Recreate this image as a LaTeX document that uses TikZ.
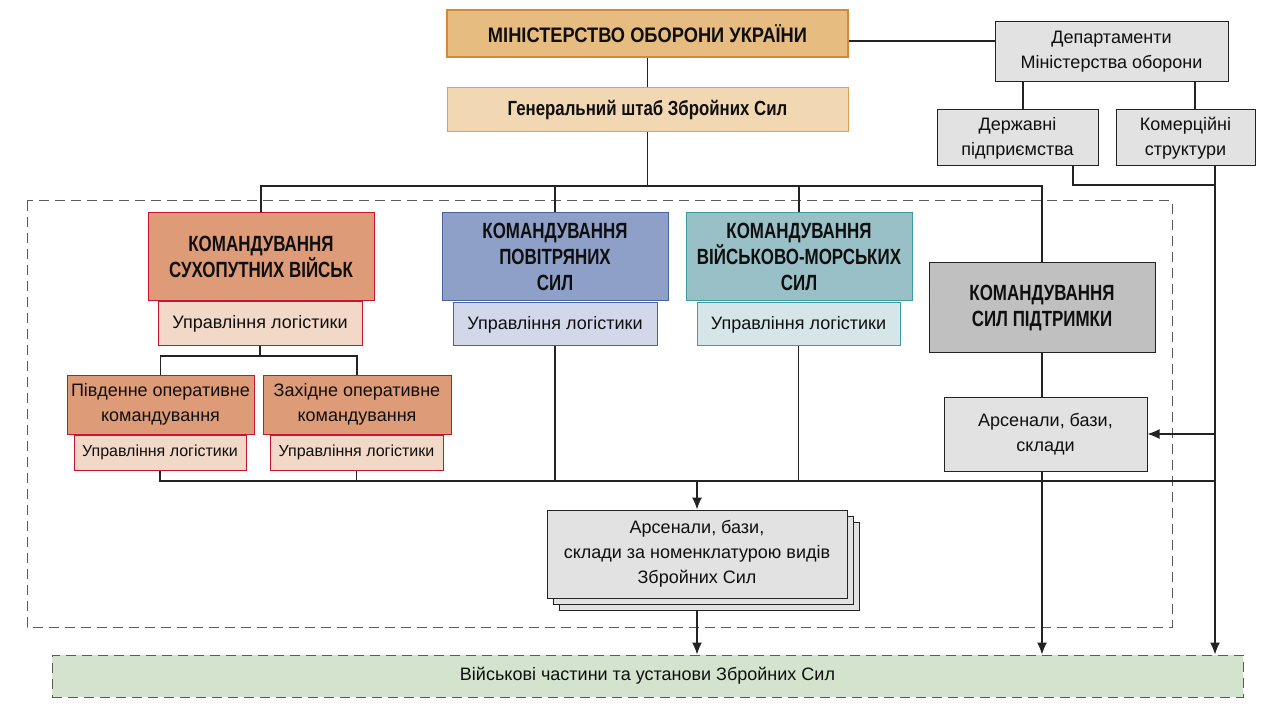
\documentclass[tikz,border=0pt]{standalone}
\usepackage{fontspec}
\setmainfont{Liberation Sans}
\newfontfamily\regf{Liberation Sans}
\newfontfamily\boldf{Liberation Sans Bold}[FakeStretch=0.77]
\newfontfamily\titlef{Liberation Sans Bold}[FakeStretch=0.87]
\newfontfamily\gsf{Liberation Sans Bold}[FakeStretch=0.82]
\usetikzlibrary{arrows.meta}
\definecolor{txt}{RGB}{15,15,15}
\definecolor{lnc}{RGB}{35,35,35}
\definecolor{minF}{RGB}{230,188,128}\definecolor{minD}{RGB}{214,136,50}
\definecolor{gsF}{RGB}{242,216,178}\definecolor{gsD}{RGB}{222,160,80}
\definecolor{svF}{RGB}{222,155,120}\definecolor{svD}{RGB}{200,20,50}\definecolor{svL}{RGB}{242,216,198}
\definecolor{psF}{RGB}{143,160,200}\definecolor{psD}{RGB}{70,100,160}\definecolor{psL}{RGB}{210,215,234}
\definecolor{vmF}{RGB}{152,192,198}\definecolor{vmD}{RGB}{60,155,160}\definecolor{vmL}{RGB}{214,230,232}
\definecolor{kspF}{RGB}{192,192,192}
\definecolor{grF}{RGB}{226,226,226}
\definecolor{vchF}{RGB}{212,227,206}
\definecolor{dashc}{RGB}{90,90,90}
\tikzset{
  box/.style={draw, rectangle, inner sep=2pt, align=center, text=txt, line width=1pt},
  rtext/.style={font=\regf\fontsize{18}{25}\selectfont},
  stext/.style={font=\regf\fontsize{16}{20}\selectfont},
  btext/.style={font=\boldf\fontsize{22}{26}\selectfont},
  grbox/.style={box, rtext, fill=grF, draw=lnc},
  conn/.style={draw=lnc, line width=1.2pt},
  arr/.style={conn, -{Latex[length=12pt,width=10pt]}},
}
\begin{document}
\begin{tikzpicture}[x=1pt,y=-1pt]
\useasboundingbox (0,0) rectangle (1280,711);
% dashed frame
\draw[dashc, line width=1pt, dash pattern=on 10pt off 6pt] (27,201) rectangle (1172,627);
% top
\node[box, font=\titlef\fontsize{21}{26}\selectfont, fill=minF, draw=minD, line width=2.5pt, minimum width=401pt, minimum height=47pt] (min) at (647.5,33.5) {МІНІСТЕРСТВО ОБОРОНИ УКРАЇНИ};
\node[box, font=\gsf\fontsize{20.5}{22}\selectfont, fill=gsF, draw=gsD, minimum width=401pt, minimum height=44pt] (gs) at (647.5,110) {Генеральний штаб Збройних Сил};
\node[grbox, minimum width=233pt, minimum height=60pt] (dep) at (1111.5,52) {Департаменти\\Міністерства оборони};
\node[grbox, minimum width=161pt, minimum height=56pt] (dp) at (1017.5,138) {Державні\\підприємства};
\node[grbox, minimum width=139pt, minimum height=56pt] (kom) at (1185.5,138) {Комерційні\\структури};
% commands
\node[box, btext, fill=svF, draw=svD, minimum width=226pt, minimum height=88pt] (ksv) at (261,257) {КОМАНДУВАННЯ\\СУХОПУТНИХ ВІЙСЬК};
\node[box, rtext, fill=svL, draw=svD, minimum width=204pt, minimum height=44pt] (ksvl) at (260,324) {Управління логістики};
\node[box, rtext, fill=svF, draw=svD, minimum width=187pt, minimum height=59pt] (pdn) at (160.5,404.5) {Південне оперативне\\командування};
\node[box, stext, fill=svL, draw=svD, minimum width=172pt, minimum height=35pt] (pdnl) at (160,452.5) {Управління логістики};
\node[box, rtext, fill=svF, draw=svD, minimum width=188pt, minimum height=59pt] (zah) at (357,404.5) {Західне оперативне\\командування};
\node[box, stext, fill=svL, draw=svD, minimum width=173pt, minimum height=35pt] (zahl) at (356.5,452.5) {Управління логістики};
\node[box, btext, fill=psF, draw=psD, minimum width=226pt, minimum height=88pt] (ps) at (555,257) {КОМАНДУВАННЯ\\ПОВІТРЯНИХ\\СИЛ};
\node[box, rtext, fill=psL, draw=psD, minimum width=204pt, minimum height=43pt] (psl) at (555,324.5) {Управління логістики};
\node[box, btext, fill=vmF, draw=vmD, minimum width=226pt, minimum height=88pt] (vms) at (799,257) {КОМАНДУВАННЯ\\ВІЙСЬКОВО-МОРСЬКИХ\\СИЛ};
\node[box, rtext, fill=vmL, draw=vmD, minimum width=203pt, minimum height=43pt] (vmsl) at (798.5,324.5) {Управління логістики};
\node[box, btext, fill=kspF, draw=lnc, minimum width=226pt, minimum height=90pt] (ksp) at (1042,308) {КОМАНДУВАННЯ\\СИЛ ПІДТРИМКИ};
\node[grbox, minimum width=203pt, minimum height=74pt] (ars) at (1045.5,434) {Арсенали, бази,\\склади};
% stack
\node[grbox, minimum width=300pt, minimum height=88pt] (stk3) at (709,566) {};
\node[grbox, minimum width=300pt, minimum height=88pt] (stk2) at (703,560) {};
\node[grbox, minimum width=300pt, minimum height=88pt] (stk) at (697,554) {Арсенали, бази,\\склади за номенклатурою видів\\Збройних Сил};
% bottom
\node[box, rtext, fill=vchF, draw=dashc, dash pattern=on 10pt off 6pt, minimum width=1191pt, minimum height=42pt] (vch) at (647.5,676) {Військові частини та установи Збройних Сил};
% connectors
\coordinate (bus) at (649,186);
\coordinate (sp) at (260,356);
\coordinate (bb) at (697,481);
\coordinate (rt) at (1215,481);
\draw[conn] ([yshift=-7.5pt]min.east) -- ([yshift=-7.5pt]min.east -| dep.west);
\draw[conn] (min.south) -- (gs.north);
\draw[conn] (gs.south) -- (gs.south |- bus);
\draw[conn] (ksv.north) -- (ksv.north |- bus) -| (ksp.north);
\draw[conn] (ps.north) -- (ps.north |- bus);
\draw[conn] (vms.north) -- (vms.north |- bus);
\draw[conn] (dep.south -| dp.north) ++(5.5,0) coordinate (d1) -- (d1 |- dp.north);
\draw[conn] (dep.south -| kom.north) ++(9.5,0) coordinate (d2) -- (d2 |- kom.north);
\draw[conn] (dp.south -| rt) ++(-142,0) coordinate (d3) -- (d3 |- 0,185) -- (rt |- 0,185);
\draw[arr] (kom.south -| rt) -- (vch.north -| rt);
\draw[arr] (ars.east -| rt) -- (ars.east);
\draw[conn] (ksvl.south) -- (sp);
\draw[conn] (pdn.north) |- (sp) -| (zah.north);
\draw[conn] (pdnl.south) |- (rt);
\draw[conn] (zahl.south) -- (zahl.south |- bb);
\draw[conn] (psl.south) -- (psl.south |- bb);
\draw[conn] (vmsl.south) -- (vmsl.south |- bb);
\draw[arr] (bb) -- (stk.north);
\draw[conn] (ksp.south) -- (ksp.south |- ars.north);
\draw[arr] (ksp.south |- ars.south) -- (ksp.south |- vch.north);
\draw[arr] (stk.south |- stk3.south) -- (stk.south |- vch.north);
\end{tikzpicture}
\end{document}
